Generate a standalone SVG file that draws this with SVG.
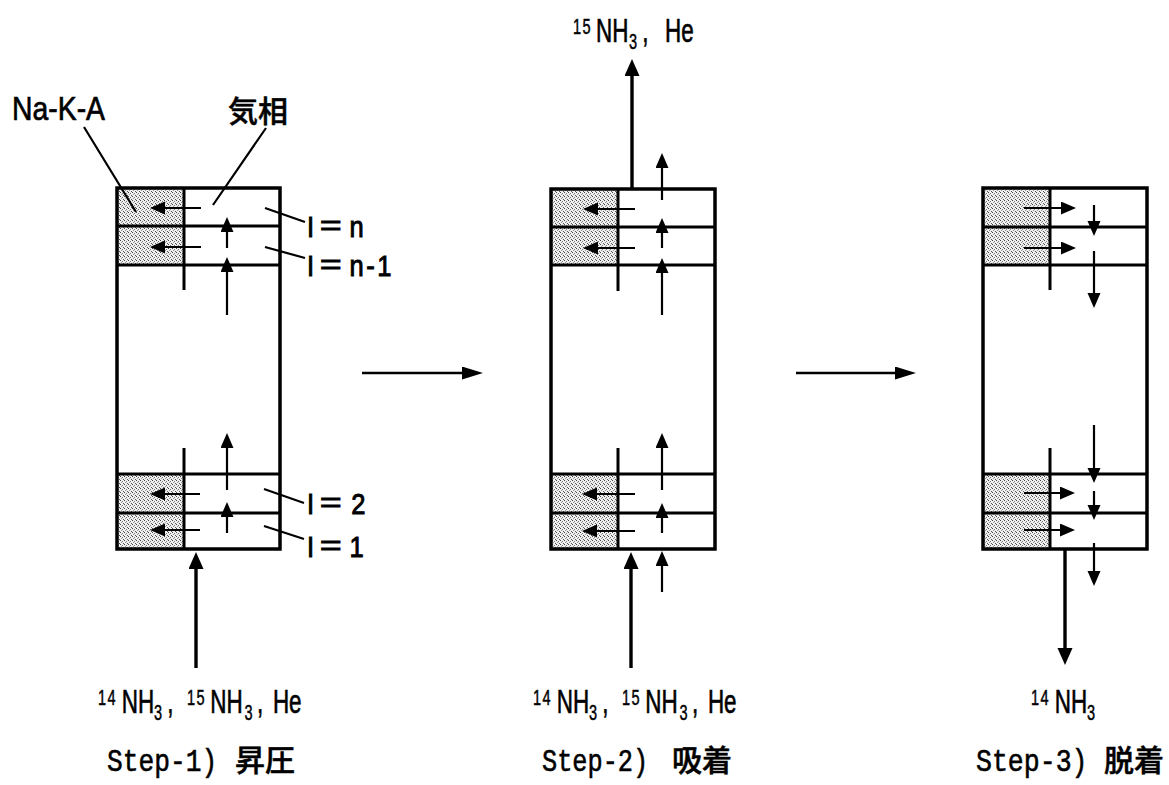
<svg xmlns="http://www.w3.org/2000/svg" width="1169" height="785" viewBox="0 0 1169 785">
<defs>
<pattern id="dots" width="4" height="4" patternUnits="userSpaceOnUse">
<rect width="4" height="4" fill="#efefef"/>
<rect x="0" y="0" width="1" height="1" fill="#444"/>
<rect x="2" y="1" width="1" height="1" fill="#777"/>
<rect x="1" y="2" width="1" height="1" fill="#999"/>
<rect x="3" y="3" width="1" height="1" fill="#555"/>
</pattern>
<marker id="s" markerUnits="userSpaceOnUse" markerWidth="16" markerHeight="14" refX="8" refY="6.5" orient="auto"><path d="M0 0L15 6.5L0 13Z" fill="#000"/></marker>
<marker id="b" markerUnits="userSpaceOnUse" markerWidth="18" markerHeight="16" refX="10" refY="7.5" orient="auto"><path d="M0 0L17 7.5L0 15Z" fill="#000"/></marker>
<marker id="w" markerUnits="userSpaceOnUse" markerWidth="22" markerHeight="14" refX="14" refY="6.5" orient="auto"><path d="M0 0L21 6.5L0 13Z" fill="#000"/></marker>
</defs>
<style>
.o{fill:none;stroke:#000;stroke-width:3.5}
.t{fill:none;stroke:#000;stroke-width:3}
.d{fill:url(#dots)}
.a{fill:none;stroke:#000;stroke-width:2.2;marker-end:url(#s)}
.c{fill:none;stroke:#000;stroke-width:3.4;marker-end:url(#b)}
.f{fill:none;stroke:#000;stroke-width:2.6;marker-end:url(#w)}
.h{fill:none;stroke:#000;stroke-width:2.2}
text{font-family:"Liberation Sans","Noto Sans CJK JP",sans-serif;fill:#000;stroke:#000;stroke-width:.7;font-size:34px}
.j{font-family:"Noto Sans CJK JP",sans-serif;font-weight:500;font-size:30px;stroke-width:.5}
.m{font-family:"Liberation Mono",monospace;font-size:32px;stroke-width:.6}
.q{font-size:30px;stroke-width:1}
.u{font-size:22px;letter-spacing:2px;stroke-width:.5}
</style>

<g id="column-1">
<rect class="d" x="117" y="188" width="67" height="77"/><rect class="d" x="117" y="474" width="67" height="75"/>
<rect class="o" x="117" y="188" width="163" height="361"/>
<path class="t" d="M117 226H280M117 265H280M117 474H280M117 513H280M184 188V290M184 448V549"/>
</g>
<g id="column-2">
<rect class="d" x="551" y="189" width="67" height="76"/><rect class="d" x="551" y="474" width="67" height="75"/>
<rect class="o" x="551" y="189" width="164" height="360"/>
<path class="t" d="M551 227H715M551 265H715M551 474H715M551 513H715M618 189V291M618 448V549"/>
</g>
<g id="column-3">
<rect class="d" x="983" y="188" width="67" height="77"/><rect class="d" x="983" y="474" width="67" height="75"/>
<rect class="o" x="983" y="188" width="164" height="361"/>
<path class="t" d="M983 227H1147M983 265H1147M983 474H1147M983 513H1147M1050 188V290M1050 448V549"/>
</g>

<g id="connectors">
<path class="a" d="M201 208H157"/><path class="a" d="M201 247H157"/><path class="a" d="M200 494H157"/><path class="a" d="M200 530H157"/>
<path class="a" d="M227 248V224"/><path class="a" d="M227 315V264"/><path class="a" d="M227 490V440"/><path class="a" d="M227 533V509"/>
<path class="c" d="M196 668V559"/>
<path class="h" d="M84 127L136 212M266 128L213 205M265 208L305 222M265 247L305 258M264 489L304 503M264 526L304 539"/>
<path class="a" d="M635 209H590"/><path class="a" d="M635 248H590"/><path class="a" d="M635 494H589"/><path class="a" d="M635 531H589"/>
<path class="a" d="M662 200V160"/><path class="a" d="M662 248V225"/><path class="a" d="M662 315V265"/><path class="a" d="M662 490V440"/><path class="a" d="M662 533V510"/><path class="a" d="M662 592V558"/>
<path class="c" d="M632 189V66"/><path class="c" d="M631 668V559"/>
<path class="a" d="M1024 208H1069"/><path class="a" d="M1024 248H1069"/><path class="a" d="M1024 493H1068"/><path class="a" d="M1024 530H1068"/>
<path class="a" d="M1094 205V229"/><path class="a" d="M1094 251V301"/><path class="a" d="M1094 425V476"/><path class="a" d="M1094 491V513"/><path class="a" d="M1094 543V579"/>
<path class="c" d="M1065 549V658"/>
<path class="f" d="M362 373H476"/><path class="f" d="M796 373H909"/>
</g>

<g id="labels">
<text x="12" y="120" textLength="93" lengthAdjust="spacingAndGlyphs">Na-K-A</text>
<text class="j" x="228" y="122">気相</text>
<text class="q" transform="translate(307 237) scale(.85 1)">I<tspan x="13">＝</tspan><tspan x="50">n</tspan></text>
<text class="q" transform="translate(307 276) scale(.85 1)">I<tspan x="13">＝</tspan><tspan x="50" style="letter-spacing:3px">n-1</tspan></text>
<text class="q" transform="translate(307 514) scale(.85 1)">I<tspan x="13">＝</tspan><tspan x="52">2</tspan></text>
<text class="q" transform="translate(307 557) scale(.85 1)">I<tspan x="13">＝</tspan><tspan x="50">1</tspan></text>

<text transform="translate(573 42) scale(.66 1)"><tspan class="u" dy="-8">15</tspan><tspan x="35" dy="8">NH</tspan><tspan class="u" x="85" dy="7">3</tspan><tspan x="105" dy="-7">,</tspan><tspan x="130"> He</tspan></text>

<text transform="translate(98 713) scale(.66 1)"><tspan class="u" dy="-8">14</tspan><tspan x="36" dy="8">NH</tspan><tspan class="u" x="85" dy="7">3</tspan><tspan x="105" dy="-7">, </tspan><tspan class="u" x="135" dy="-8">15</tspan><tspan x="170" dy="8">NH</tspan><tspan class="u" x="222" dy="7">3</tspan><tspan x="241" dy="-7">, </tspan><tspan x="265">He</tspan></text>
<text transform="translate(533 713) scale(.66 1)"><tspan class="u" dy="-8">14</tspan><tspan x="36" dy="8">NH</tspan><tspan class="u" x="85" dy="7">3</tspan><tspan x="105" dy="-7">, </tspan><tspan class="u" x="135" dy="-8">15</tspan><tspan x="170" dy="8">NH</tspan><tspan class="u" x="222" dy="7">3</tspan><tspan x="241" dy="-7">, </tspan><tspan x="265">He</tspan></text>
<text transform="translate(1031 713) scale(.66 1)"><tspan class="u" dy="-8">14</tspan><tspan x="36" dy="8">NH</tspan><tspan class="u" x="85" dy="7">3</tspan></text>

<text class="m" transform="translate(107 771) scale(.82 1)">Step-1)</text><text class="j" x="235" y="771">昇圧</text>
<text class="m" transform="translate(542 771) scale(.79 1)">Step-2)</text><text class="j" x="672" y="771">吸着</text>
<text class="m" transform="translate(976 771) scale(.83 1)">Step-3)</text><text class="j" x="1104" y="771">脱着</text>
</g>
</svg>
